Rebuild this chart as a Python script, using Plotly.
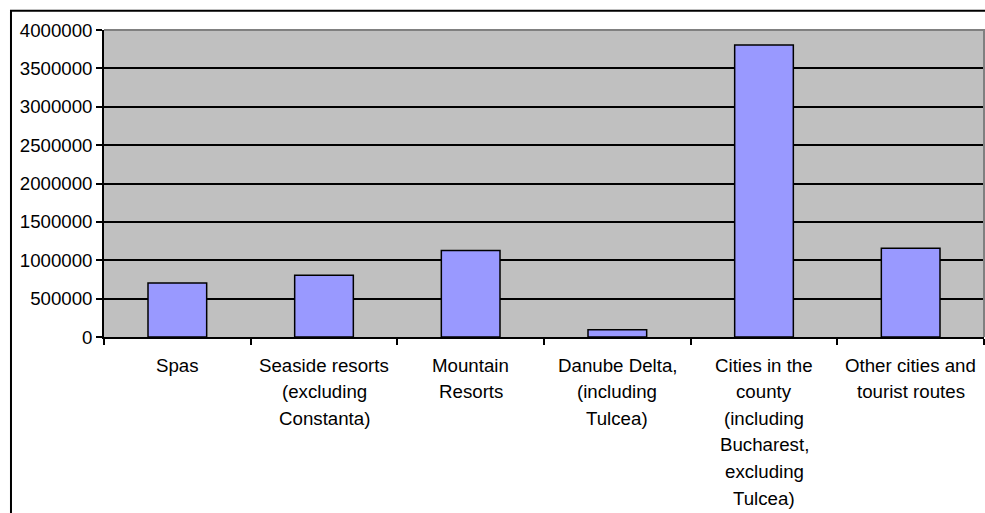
import plotly.graph_objects as go

categories = ["Spas", "Seaside resorts", "Mountain Resorts", "Danube Delta",
              "Cities in the county", "Other cities and tourist routes"]
label_lines = [
    ["Spas"],
    ["Seaside resorts", "(excluding", "Constanta)"],
    ["Mountain", "Resorts"],
    ["Danube Delta,", "(including", "Tulcea)"],
    ["Cities in the", "county", "(including", "Bucharest,", "excluding", "Tulcea)"],
    ["Other cities and", "tourist routes"],
]
values = [705000, 805000, 1127000, 96000, 3805000, 1156000]
y_ticks = [0, 500000, 1000000, 1500000, 2000000, 2500000, 3000000, 3500000, 4000000]

FONT = "Liberation Sans, Arial, sans-serif"
FS = 18.7

fig = go.Figure()
fig.add_trace(go.Bar(
    x=categories, y=values,
    marker=dict(color="#9999FF", line=dict(color="black", width=1.5)),
    hoverinfo="skip",
))

annotations = []
for cat, lines in zip(categories, label_lines):
    for i, line in enumerate(lines):
        annotations.append(dict(
            x=cat, xref="x", y=0, yref="paper",
            text=line, showarrow=False,
            xanchor="center", yanchor="middle",
            yshift=-(28 + i * 26.6),
            font=dict(family=FONT, size=FS, color="black"),
        ))

fig.update_layout(
    width=985, height=513,
    margin=dict(l=104, r=1, t=30, b=176),
    paper_bgcolor="white",
    plot_bgcolor="#C0C0C0",
    bargap=0.6,
    showlegend=False,
    font=dict(family=FONT, size=FS, color="black"),
    annotations=annotations,
    xaxis=dict(
        showticklabels=False,
        ticks="outside", tickson="boundaries", ticklen=6,
        tickcolor="black", tickwidth=1.5,
        showline=True, linecolor="black", linewidth=1.5,
        showgrid=False, zeroline=False, fixedrange=True,
    ),
    yaxis=dict(
        range=[0, 4000000],
        tickvals=y_ticks, ticktext=[str(v) for v in y_ticks],
        ticks="outside", ticklen=6, tickcolor="black", tickwidth=1.5,
        showline=True, linecolor="black", linewidth=1.5,
        showgrid=True, gridcolor="black", gridwidth=1.5,
        zeroline=False, fixedrange=True,
        tickfont=dict(family=FONT, size=FS, color="black"),
    ),
    shapes=[
        # plot area frame (top and right edges, grey)
        dict(type="path", xref="paper", yref="paper",
             path="M 0,1 L 1,1 L 1,0", line=dict(color="#808080", width=2),
             layer="above"),
        # outer chart border (right and bottom edges fall outside the view)
        dict(type="rect", xref="paper", yref="paper",
             x0=-0.1057, x1=1.2, y0=-0.9, y1=1.0625,
             line=dict(color="black", width=2), fillcolor="rgba(0,0,0,0)",
             layer="above"),
    ],
)

fig.write_html("out.html")
